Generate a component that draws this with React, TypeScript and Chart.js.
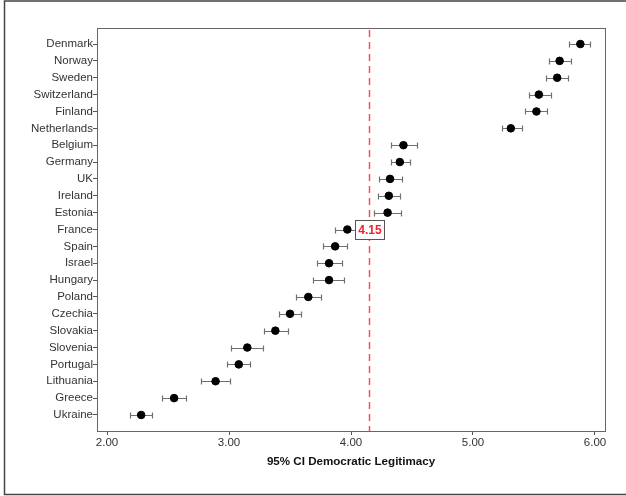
import React, { useEffect, useRef } from "react";
import { Chart, registerables } from "chart.js";

Chart.register(...registerables);

const countries = [
  "Denmark", "Norway", "Sweden", "Switzerland", "Finland", "Netherlands",
  "Belgium", "Germany", "UK", "Ireland", "Estonia", "France", "Spain",
  "Israel", "Hungary", "Poland", "Czechia", "Slovakia", "Slovenia",
  "Portugal", "Lithuania", "Greece", "Ukraine",
];
const means = [
  5.88, 5.71, 5.69, 5.54, 5.52, 5.31, 4.43, 4.40, 4.32, 4.31, 4.30, 3.97,
  3.87, 3.82, 3.82, 3.65, 3.50, 3.38, 3.15, 3.08, 2.89, 2.55, 2.28,
];
const lower = [
  5.79, 5.62, 5.60, 5.46, 5.43, 5.24, 4.33, 4.33, 4.23, 4.22, 4.19, 3.87,
  3.77, 3.72, 3.69, 3.55, 3.41, 3.29, 3.02, 2.98, 2.77, 2.45, 2.19,
];
const upper = [
  5.96, 5.80, 5.78, 5.64, 5.61, 5.40, 4.54, 4.48, 4.42, 4.40, 4.41, 4.06,
  3.97, 3.93, 3.94, 3.75, 3.59, 3.48, 3.28, 3.17, 3.01, 2.65, 2.37,
];
const xTicks = [2, 3, 4, 5, 6];
const refValue = 4.15;
const refLabel = "4.15";
const refRowIndex = 11;
const xTitle = "95% CI Democratic Legitimacy";

const FONT = "'Liberation Sans', Arial, sans-serif";

export default function App() {
  const canvasRef = useRef<HTMLCanvasElement | null>(null);

  useEffect(() => {
    document.body.style.margin = "0";
    const canvas = canvasRef.current;
    if (!canvas) return;

    const decorPlugin = {
      id: "decor",
      beforeDatasetsDraw(chart: any) {
        const { ctx, chartArea, scales } = chart;
        const xs = scales.x;
        const ys = scales.y;
        ctx.save();
        // reference line
        ctx.strokeStyle = "#f2505e";
        ctx.lineWidth = 1.5;
        ctx.setLineDash([7, 5]);
        const rx = Math.round(xs.getPixelForValue(refValue)) + 0.5;
        ctx.beginPath();
        ctx.moveTo(rx, chartArea.top + 2);
        ctx.lineTo(rx, chartArea.bottom);
        ctx.stroke();
        ctx.setLineDash([]);
        // error bars
        ctx.strokeStyle = "#707070";
        ctx.lineWidth = 1.2;
        for (let i = 0; i < countries.length; i++) {
          const y = Math.round(ys.getPixelForValue(i)) + 0.5;
          const x1 = Math.round(xs.getPixelForValue(lower[i])) + 0.5;
          const x2 = Math.round(xs.getPixelForValue(upper[i])) + 0.5;
          ctx.beginPath();
          ctx.moveTo(x1, y);
          ctx.lineTo(x2, y);
          ctx.moveTo(x1, y - 3);
          ctx.lineTo(x1, y + 3);
          ctx.moveTo(x2, y - 3);
          ctx.lineTo(x2, y + 3);
          ctx.stroke();
        }
        ctx.restore();
      },
      afterDatasetsDraw(chart: any) {
        const { ctx, scales } = chart;
        const xs = scales.x;
        const ys = scales.y;
        ctx.save();
        const cx = xs.getPixelForValue(refValue);
        const cy = ys.getPixelForValue(refRowIndex);
        const w = 29;
        const h = 19;
        const bx = Math.round(cx - w / 2) + 0.5;
        const by = Math.round(cy - h / 2) + 0.5;
        ctx.fillStyle = "#ffffff";
        ctx.fillRect(bx, by, w, h);
        ctx.strokeStyle = "#555555";
        ctx.lineWidth = 1;
        ctx.strokeRect(bx, by, w, h);
        ctx.fillStyle = "#f0222e";
        ctx.font = `bold 12px ${FONT}`;
        ctx.textAlign = "center";
        ctx.textBaseline = "middle";
        ctx.fillText(refLabel, bx + w / 2, by + h / 2 + 0.5);
        ctx.restore();
      },
      afterDraw(chart: any) {
        const { ctx, chartArea } = chart;
        ctx.save();
        // plot frame
        ctx.strokeStyle = "#666666";
        ctx.lineWidth = 1;
        ctx.strokeRect(
          Math.round(chartArea.left) + 0.5,
          Math.round(chartArea.top) + 0.5,
          Math.round(chartArea.right - chartArea.left),
          Math.round(chartArea.bottom - chartArea.top)
        );
        // outer frame
        ctx.strokeStyle = "#444444";
        ctx.lineWidth = 1.5;
        ctx.beginPath();
        ctx.moveTo(chart.width + 2, 1);
        ctx.lineTo(4.5, 1);
        ctx.lineTo(4.5, 494.5);
        ctx.lineTo(chart.width + 2, 494.5);
        ctx.stroke();
        ctx.restore();
      },
    };

    const chart = new Chart(canvas, {
      type: "scatter",
      data: {
        datasets: [
          {
            label: "Mean",
            data: means.map((m, i) => ({ x: m, y: i })),
            backgroundColor: "#000000",
            borderColor: "#000000",
            pointRadius: 3.8,
            pointHoverRadius: 3.8,
          },
        ],
      },
      options: {
        animation: false,
        responsive: true,
        maintainAspectRatio: false,
        layout: { padding: { left: 0, top: 28, right: 21, bottom: 0 } },
        plugins: {
          legend: { display: false },
          tooltip: { enabled: false },
        },
        scales: {
          x: {
            type: "linear",
            min: 1.918,
            max: 6.082,
            afterBuildTicks(scale: any) {
              scale.ticks = xTicks.map((v) => ({ value: v }));
            },
            afterFit(scale: any) {
              scale.height = 65;
            },
            grid: {
              drawOnChartArea: false,
              drawTicks: true,
              tickLength: 4,
              color: "#555555",
            },
            border: { display: true, color: "#666666" },
            ticks: {
              padding: 1,
              color: "#333333",
              font: { family: FONT, size: 11.5 },
              callback: (v: any) => Number(v).toFixed(2),
            },
            title: {
              display: true,
              text: xTitle,
              color: "#111111",
              font: { family: FONT, size: 11.6, weight: "bold" },
              padding: { top: 0, bottom: 27 },
            },
          },
          y: {
            type: "linear",
            reverse: true,
            min: -0.95,
            max: 22.95,
            afterBuildTicks(scale: any) {
              scale.ticks = countries.map((_, i) => ({ value: i }));
            },
            afterFit(scale: any) {
              scale.width = 97;
            },
            grid: {
              drawOnChartArea: false,
              drawTicks: true,
              tickLength: 4,
              color: "#555555",
            },
            border: { display: true, color: "#666666" },
            ticks: {
              padding: 0,
              color: "#333333",
              autoSkip: false,
              font: { family: FONT, size: 11.5 },
              callback: (v: any) => countries[Math.round(Number(v))] ?? "",
            },
          },
        },
      },
      plugins: [decorPlugin],
    });

    return () => chart.destroy();
  }, []);

  return (
    <div style={{ position: "relative", width: 626, height: 496, background: "#ffffff" }}>
      <canvas ref={canvasRef} />
    </div>
  );
}
